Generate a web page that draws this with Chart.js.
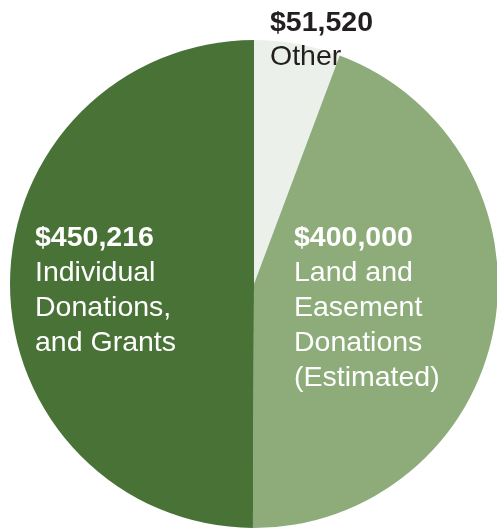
<!DOCTYPE html>
<html><head><meta charset="utf-8">
<script src="https://cdn.jsdelivr.net/npm/chart.js@4/dist/chart.umd.min.js"></script>
<style>html,body{margin:0;padding:0;background:#fff;overflow:hidden;width:497px;height:529px}</style>
</head><body>
<canvas id="c" width="500" height="529" style="display:block;width:500px;height:529px"></canvas>
<script>
const categories = ["Other", "Land and Easement Donations (Estimated)", "Individual Donations, and Grants"];
const values = [51520, 400000, 450216];
const amountLabels = ["$51,520", "$400,000", "$450,216"];
const nameLines = [["Other"], ["Land and", "Easement", "Donations", "(Estimated)"], ["Individual", "Donations,", "and Grants"]];
const colors = ["#ebf1ea", "#8dac7a", "#497237"];

const labelPlugin = {
  id: 'labels',
  afterDraw(chart) {
    const ctx = chart.ctx;
    const spots = [
      {x: 270, y: 31, color: "#231f20"},
      {x: 294, y: 246, color: "#ffffff"},
      {x: 35, y: 246, color: "#ffffff"}
    ];
    ctx.save();
    ctx.textAlign = 'left';
    ctx.textBaseline = 'alphabetic';
    spots.forEach((s, i) => {
      ctx.fillStyle = s.color;
      ctx.font = "bold 28.5px 'Liberation Sans', Arial, sans-serif";
      ctx.fillText(amountLabels[i], s.x, s.y);
      ctx.font = "28.5px 'Liberation Sans', Arial, sans-serif";
      nameLines[i].forEach((ln, j) => {
        ctx.fillText(ln, s.x, s.y + 35 * (j + 1) - (i === 0 ? 1 : 0));
      });
    });
    ctx.restore();
  }
};

new Chart(document.getElementById('c'), {
  type: 'pie',
  data: {
    labels: categories,
    datasets: [{ data: values, backgroundColor: colors, borderWidth: 0 }]
  },
  options: {
    responsive: false,
    animation: false,
    layout: { padding: { left: 10, right: 2, top: 40, bottom: 1 } },
    plugins: { legend: { display: false }, tooltip: { enabled: false } }
  },
  plugins: [labelPlugin]
});
</script>
</body></html>
